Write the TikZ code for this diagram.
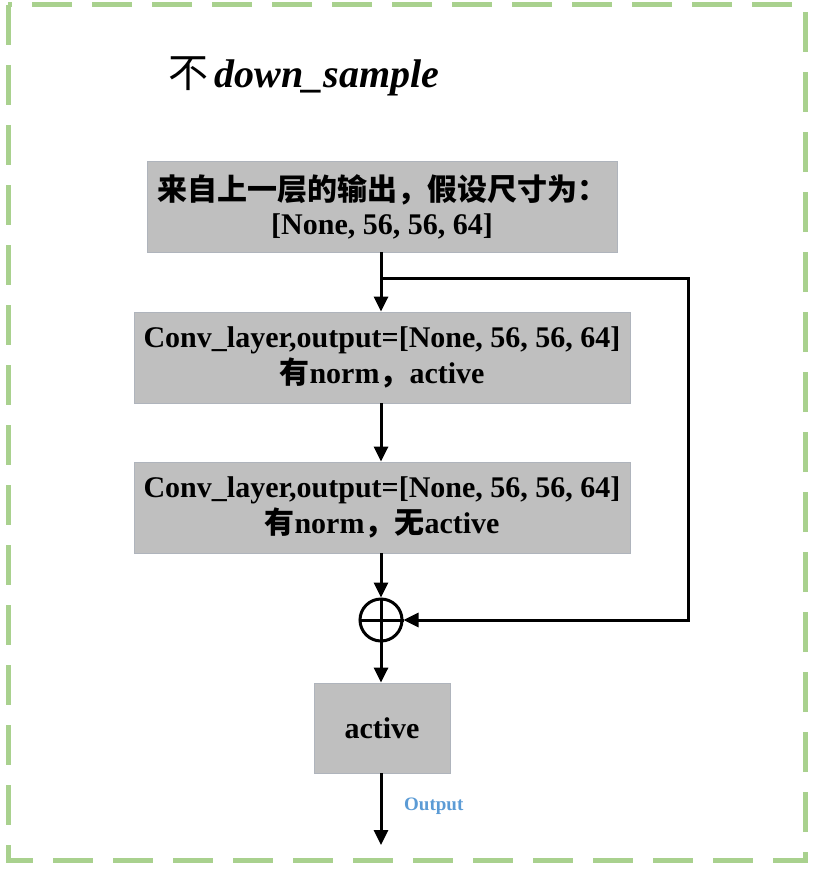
\documentclass[tikz,border=0pt]{standalone}
\usepackage{fontspec}
\setmainfont{Liberation Serif}
\newfontfamily\cjk{Noto Sans CJK SC}
\usetikzlibrary{arrows.meta}
\definecolor{boxgray}{RGB}{191,191,191}
\definecolor{boxedge}{RGB}{175,180,188}
\definecolor{dashgreen}{RGB}{169,209,142}
\definecolor{outblue}{RGB}{91,155,213}
\tikzset{
  blk/.style={draw=boxedge, line width=0.8pt, fill=boxgray, align=center, inner sep=0pt,
    font=\bfseries\fontsize{30}{36}\selectfont},
  conn/.style={line width=3pt, -{Triangle[length=15pt,width=14pt]}},
}
\begin{document}
\begin{tikzpicture}[x=1pt,y=-1pt]
\useasboundingbox (0,0) rectangle (815,872);
% dashed frame
\draw[dashgreen, line width=5pt, dash pattern=on 40pt off 20pt]
  (8,5) -- (8,860) -- (805,860) -- (805,5) -- cycle;
% title
\node[anchor=base west, inner sep=0pt, font=\fontsize{40}{48}\selectfont] (title) at (168,88)
  {{\cjk 不}\,\textbf{\textit{down\_sample}}};
% boxes
\node[blk, minimum width=470pt, minimum height=91pt] (in) at (382,206.5)
  {{\cjk 来自上一层的输出，假设尺寸为：}\\[-2pt][None, 56, 56, 64]};
\node[blk, minimum width=496pt, minimum height=91pt] (c1) at (382,357.5)
  {Conv\_layer,output=[None, 56, 56, 64]\\{\cjk 有}norm{\cjk ，}active};
\node[blk, minimum width=496pt, minimum height=91pt] (c2) at (382,507.5)
  {Conv\_layer,output=[None, 56, 56, 64]\\{\cjk 有}norm{\cjk ，无}active};
\node[draw, circle, line width=3pt, minimum size=42pt, inner sep=0pt] (add) at (381,620) {};
\draw[line width=3pt] (add.north) -- (add.south) (add.west) -- (add.east);
\node[blk, minimum width=136pt, minimum height=90pt] (act) at (382,728) {active};
\coordinate (split) at (381,278);
\coordinate (rt) at (688,278);
\coordinate (rb) at (688,620);
\coordinate (out) at (381,845);
% connectors
\draw[conn] (in.south -| split) -- (c1.north -| split);
\draw[conn] (c1.south -| split) -- (c2.north -| split);
\draw[conn] (c2.south -| split) -- (add.north);
\draw[conn] (add.south) -- (act.north -| split);
\draw[conn] (act.south -| split) -- (out);
\draw[conn] (split) -- (rt) -- (rb) -- (add.east);
\node[anchor=west, inner sep=0pt, text=outblue, font=\bfseries\fontsize{19}{22}\selectfont] (outlbl) at (404,806) {Output};
\end{tikzpicture}
\end{document}
